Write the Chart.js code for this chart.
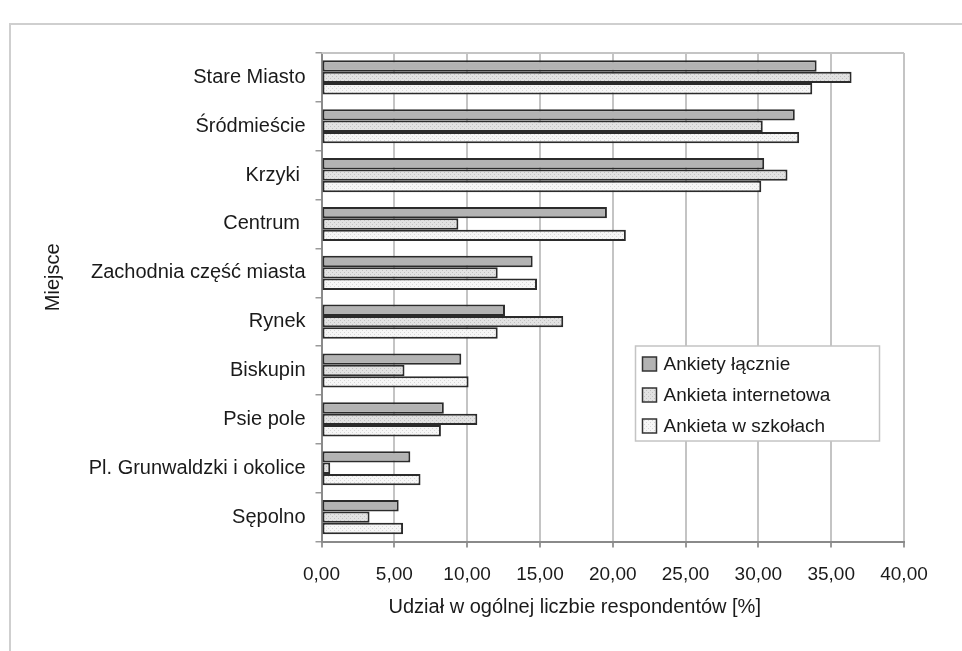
<!DOCTYPE html>
<html>
<head>
<meta charset="utf-8">
<script src="https://cdn.jsdelivr.net/npm/chart.js@4"></script>
<style>
  body { margin: 0; background: #fff; overflow: hidden; }
  #frame { position: absolute; left: 9px; top: 23px; width: 2000px; height: 2000px; border-top: 2px solid #cfcfcf; border-left: 2px solid #cfcfcf; }
  #wrap { position: absolute; left: 0; top: 0; width: 962px; height: 651px; }
</style>
</head>
<body>
<div id="frame"></div>
<div id="wrap"><canvas id="chart" width="962" height="651"></canvas></div>
<script>
var places = ["Stare Miasto", "Śródmieście", "Krzyki ", "Centrum ", "Zachodnia część miasta", "Rynek", "Biskupin", "Psie pole", "Pl. Grunwaldzki i okolice", "Sępolno"];
var seriesNames = ["Ankiety łącznie", "Ankieta internetowa", "Ankieta w szkołach"];
var totalValues = [34.0, 32.5, 30.4, 19.6, 14.5, 12.6, 9.6, 8.4, 6.1, 5.3];
var internetValues = [36.4, 30.3, 32.0, 9.4, 12.1, 16.6, 5.7, 10.7, 0.6, 3.3];
var schoolValues = [33.7, 32.8, 30.2, 20.9, 14.8, 12.1, 10.1, 8.2, 6.8, 5.6];
var xTitle = "Udział w ogólnej liczbie respondentów [%]";
var yTitle = "Miejsce";

var FONT = "'Liberation Sans', Arial, sans-serif";
var TEXT = "#1a1a1a";

// small dotted fills like the printed original
function makePattern(bg, dot) {
    var c = document.createElement("canvas");
    c.width = 4;
    c.height = 4;
    var g = c.getContext("2d");
    g.fillStyle = bg;
    g.fillRect(0, 0, 4, 4);
    g.fillStyle = dot;
    g.fillRect(0, 0, 1, 1);
    g.fillRect(2, 2, 1, 1);
    return g.createPattern(c, "repeat");
}
var fills = [
    "#b3b3b3",
    makePattern("#e2e2e2", "#c0c0c0"),
    makePattern("#f6f6f6", "#d6d6d6")
];

var extras = {
    id: "extras",
    beforeDatasetsDraw: function (chart) {
        var a = chart.chartArea;
        var ctx = chart.ctx;
        ctx.save();
        ctx.strokeStyle = "#c4c4c4";
        ctx.lineWidth = 2;
        ctx.beginPath();
        ctx.moveTo(a.left, a.top);
        ctx.lineTo(a.right, a.top);
        ctx.stroke();
        ctx.restore();
    },
    afterDraw: function (chart) {
        var a = chart.chartArea;
        var ctx = chart.ctx;
        ctx.save();
        // axis titles
        ctx.fillStyle = TEXT;
        ctx.font = "20px " + FONT;
        ctx.textAlign = "center";
        ctx.textBaseline = "middle";
        ctx.fillText(xTitle, (a.left + a.right) / 2 - 38, a.bottom + 66);
        ctx.translate(53, (a.top + a.bottom) / 2 - 20);
        ctx.rotate(-Math.PI / 2);
        ctx.fillText(yTitle, 0, 0);
        ctx.restore();

        // legend box inside the plot
        ctx.save();
        var bx = a.left + 314, by = a.top + 293, bw = 244, bh = 95;
        ctx.fillStyle = "#fff";
        ctx.fillRect(bx, by, bw, bh);
        ctx.strokeStyle = "#c4c4c4";
        ctx.lineWidth = 1.5;
        ctx.strokeRect(bx, by, bw, bh);
        ctx.font = "19px " + FONT;
        ctx.textAlign = "left";
        ctx.textBaseline = "middle";
        chart.data.datasets.forEach(function (ds, i) {
            var cy = by + 18 + i * 31;
            ctx.fillStyle = ds.backgroundColor;
            ctx.fillRect(bx + 7, cy - 7, 14, 14);
            ctx.strokeStyle = "#333";
            ctx.lineWidth = 1.5;
            ctx.strokeRect(bx + 7, cy - 7, 14, 14);
            ctx.fillStyle = TEXT;
            ctx.fillText(ds.label, bx + 28, cy + 1);
        });
        ctx.restore();
    }
};

var allValues = [totalValues, internetValues, schoolValues];
var chart = new Chart(document.getElementById("chart").getContext("2d"), {
    type: "bar",
    data: {
        labels: places,
        datasets: allValues.map(function (vals, i) {
            return {
                label: seriesNames[i],
                data: vals,
                backgroundColor: fills[i],
                borderColor: "#2b2b2b",
                borderWidth: 2,
                borderSkipped: false,
                categoryPercentage: 0.7,
                barPercentage: 1.0
            };
        })
    },
    options: {
        indexAxis: "y",
        responsive: false,
        animation: false,
        devicePixelRatio: 1,
        layout: { padding: { left: 0, top: 53, right: 58, bottom: 0 } },
        plugins: {
            legend: { display: false },
            tooltip: { enabled: false }
        },
        scales: {
            x: {
                min: 0,
                max: 40,
                afterFit: function (s) { s.height = 109.5; },
                ticks: {
                    stepSize: 5,
                    padding: 16,
                    color: TEXT,
                    font: { family: FONT, size: 19 },
                    callback: function (v) { return v.toFixed(2).replace(".", ","); }
                },
                grid: { color: "#c4c4c4", lineWidth: 2, tickLength: 6, tickColor: "#9a9a9a" },
                border: { color: "#8a8a8a", width: 2 }
            },
            y: {
                afterFit: function (s) { s.width = 321.5; },
                ticks: {
                    padding: 10,
                    color: TEXT,
                    font: { family: FONT, size: 20 }
                },
                grid: { drawOnChartArea: false, tickLength: 6, tickColor: "#9a9a9a", lineWidth: 1.5 },
                border: { color: "#8a8a8a", width: 2 }
            }
        }
    },
    plugins: [extras]
});
</script>
</body>
</html>
